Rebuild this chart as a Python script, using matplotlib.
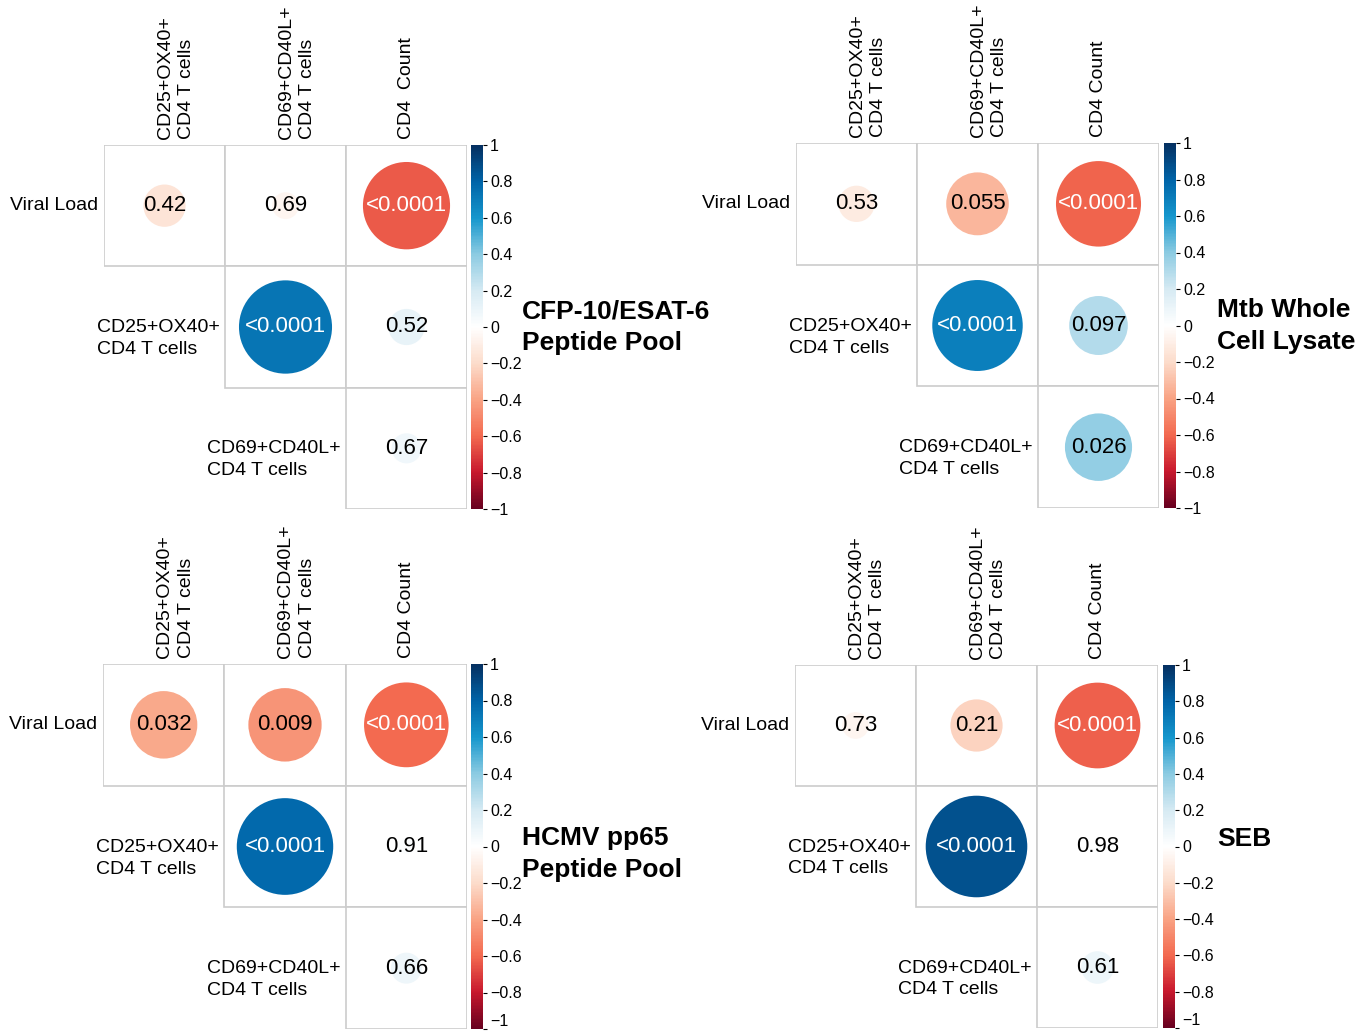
import numpy as np
import matplotlib
matplotlib.use("Agg")
import matplotlib.pyplot as plt
from matplotlib.colors import LinearSegmentedColormap, Normalize
from matplotlib.cm import ScalarMappable
from matplotlib.patches import Rectangle, Circle

plt.rcParams["font.family"] = ["Liberation Sans", "DejaVu Sans"]

# Variables of the correlation matrices
row_labels = ["Viral Load", "CD25+OX40+\nCD4 T cells", "CD69+CD40L+\nCD4 T cells"]
col_labels_first = ["CD25+OX40+\nCD4 T cells", "CD69+CD40L+\nCD4 T cells", "CD4  Count"]
col_labels = ["CD25+OX40+\nCD4 T cells", "CD69+CD40L+\nCD4 T cells", "CD4 Count"]

# Upper-triangle cells (row, col): VL-CD25, VL-CD69, VL-CD4, CD25-CD69, CD25-CD4, CD69-CD4
cells = [(0, 0), (0, 1), (0, 2), (1, 1), (1, 2), (2, 2)]

titles = ["CFP-10/ESAT-6\nPeptide Pool", "Mtb Whole\nCell Lysate",
          "HCMV pp65\nPeptide Pool", "SEB"]

# Spearman r for each cell
r_cfp = [-0.15, -0.06, -0.64, 0.73, 0.11, 0.076]
r_mtb = [-0.11, -0.33, -0.61, 0.69, 0.29, 0.38]
r_hcmv = [-0.38, -0.45, -0.60, 0.78, 0.02, 0.08]
r_seb = [-0.06, -0.23, -0.62, 0.87, 0.004, 0.09]

# p-values printed in each cell
p_cfp = ["0.42", "0.69", "<0.0001", "<0.0001", "0.52", "0.67"]
p_mtb = ["0.53", "0.055", "<0.0001", "<0.0001", "0.097", "0.026"]
p_hcmv = ["0.032", "0.009", "<0.0001", "<0.0001", "0.91", "0.66"]
p_seb = ["0.73", "0.21", "<0.0001", "<0.0001", "0.98", "0.61"]

cbar_ticks = [-1, -0.8, -0.6, -0.4, -0.2, 0, 0.2, 0.4, 0.6, 0.8, 1]

cmap = LinearSegmentedColormap.from_list(
    "corr_rdbu",
    [(0.0, "#67001F"), (0.1, "#C8182D"), (0.2, "#F36A50"), (0.3, "#F9A384"),
     (0.4, "#FCDCCB"), (0.5, "#FFFFFF"), (0.6, "#D6EAF3"), (0.7, "#8CCBE2"),
     (0.8, "#1597CD"), (0.9, "#0064A8"), (1.0, "#053061")], N=256)
norm = Normalize(-1, 1)

W, H = 1371, 1034
fig = plt.figure(figsize=(W / 100, H / 100), dpi=100)


def rect(x0, x1, y0, y1):
    return [x0 / W, 1 - y1 / H, (x1 - x0) / W, (y1 - y0) / H]


def draw_panel(grid_px, cbar_px, title_xy, title, r_vals, p_vals, clabels,
               lift_bottom_label=False):
    ax = fig.add_axes(rect(*grid_px))
    ax.set_xlim(0, 3)
    ax.set_ylim(3, 0)
    ax.axis("off")
    for (i, j), r, p in zip(cells, r_vals, p_vals):
        ax.add_patch(Rectangle((j, i), 1, 1, facecolor="white",
                               edgecolor="#CCCCCC", lw=1.2, zorder=1))
        ax.add_patch(Circle((j + 0.5, i + 0.5), 0.45 * np.sqrt(abs(r)),
                            facecolor=cmap(norm(r)), edgecolor="none", zorder=2))
        tc = "white" if abs(r) > 0.5 else "black"
        ax.text(j + 0.5, i + 0.5, p, ha="center", va="center", fontsize=16,
                color=tc, zorder=3)
    # row labels, to the left of the first cell of each row
    for i, lab in enumerate(row_labels):
        two = "\n" in lab
        ax.text(i - 0.045, i + 0.5 + (0.095 if two else 0), lab, ha="right",
                va="center", multialignment="left", fontsize=14,
                linespacing=1.38, clip_on=False)
    # column labels above the grid
    for j, lab in enumerate(clabels):
        two = "\n" in lab
        ax.text(j + 0.5 + (0.095 if two else 0), -0.05, lab, rotation=90,
                rotation_mode="anchor", ha="left", va="center",
                multialignment="left", fontsize=14, linespacing=1.38,
                clip_on=False)

    cax = fig.add_axes(rect(*cbar_px))
    cb = fig.colorbar(ScalarMappable(norm=norm, cmap=cmap), cax=cax,
                      ticks=cbar_ticks)
    cb.outline.set_visible(False)
    cb.ax.set_yticklabels([f"{t:g}".replace("-", "\u2212") for t in cbar_ticks])
    cb.ax.tick_params(length=3, width=0.8, pad=2, labelsize=11.5)
    if lift_bottom_label:
        # keep the "−1" label inside the figure at the lower edge
        cb.ax.get_yticklabels()[0].set_va("bottom")

    fig.text(title_xy[0] / W, 1 - title_xy[1] / H, title, ha="left",
             va="center", multialignment="left", fontsize=19,
             fontweight="bold", linespacing=1.37)


draw_panel((104, 467, 145, 509), (471, 483, 145, 509), (522, 327),
           titles[0], r_cfp, p_cfp, col_labels_first)
draw_panel((796, 1159, 143, 508), (1164, 1176, 143, 508), (1217, 326),
           titles[1], r_mtb, p_mtb, col_labels)
draw_panel((103, 467, 664, 1029), (471, 483, 664, 1029), (522, 854),
           titles[2], r_hcmv, p_hcmv, col_labels, lift_bottom_label=True)
draw_panel((795, 1158, 665, 1028), (1163, 1175, 665, 1028), (1217, 839),
           titles[3], r_seb, p_seb, col_labels, lift_bottom_label=True)

fig.savefig("out.png", dpi=100, facecolor="white")
